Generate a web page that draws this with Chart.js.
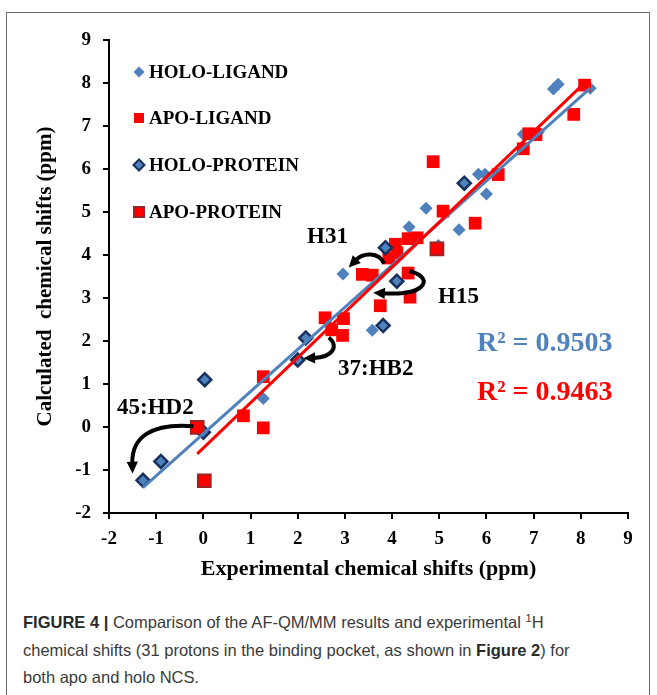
<!DOCTYPE html>
<html>
<head>
<meta charset="utf-8">
<script src="https://cdn.jsdelivr.net/npm/chart.js@4.4.1/dist/chart.umd.min.js"></script>
<style>
    html, body { margin: 0; padding: 0; background: #ffffff; }
    body { width: 657px; height: 695px; position: relative; overflow: hidden; }
    #frame {
        position: absolute; left: 6px; top: 12px; width: 644px; height: 720px;
        border: 1px solid #707070; box-sizing: border-box;
    }
    #chartCanvas { position: absolute; left: 0; top: 0; }
    #caption {
        position: absolute; left: 23px; top: 609px; width: 625px;
        font-family: "Liberation Sans", Arial, sans-serif; font-size: 16.5px;
        line-height: 27.5px; color: #3a3a3a; white-space: nowrap;
    }
    #caption b { color: #2a2a2a; }
    #caption sup { font-size: 11px; vertical-align: 6px; line-height: 0; }
</style>
</head>
<body>
<div id="frame"></div>
<canvas id="chartCanvas" width="657" height="595"></canvas>
<div id="caption">
    <b>FIGURE 4 |</b> Comparison of the AF-QM/MM results and experimental <sup>1</sup>H<br>
    chemical shifts (31 protons in the binding pocket, as shown in <b>Figure 2</b>) for<br>
    both apo and holo NCS.
</div>

<script>
/* ==========================================
        DATA  (experimental vs calculated, ppm)
========================================== */

const xTickValues = [-2, -1, 0, 1, 2, 3, 4, 5, 6, 7, 8, 9];
const yTickValues = [-2, -1, 0, 1, 2, 3, 4, 5, 6, 7, 8, 9];

const holoLigandExp  = [8.20, 7.42, 7.52, 6.78, 7.10, 5.83, 5.97, 6.00, 4.72, 4.36, 5.42, 4.98, 2.96, 3.58, 1.27];
const holoLigandCalc = [7.88, 7.86, 7.97, 6.81, 6.86, 5.88, 5.88, 5.42, 5.09, 4.65, 4.59, 4.22, 3.56, 2.25, 0.66];

const apoLigandExp  = [8.08, 7.85, 6.90, 7.05, 6.78, 4.87, 6.25, 5.08, 5.76, 4.34, 4.53, 4.07, 4.10, 3.93, 3.37, 3.58, 4.34, 4.38, 3.75, 2.58, 2.97, 2.72, 2.95, 1.27, 0.85, 1.27];
const apoLigandCalc = [7.95, 7.27, 6.82, 6.80, 6.47, 6.17, 5.87, 5.02, 4.74, 4.38, 4.40, 4.25, 4.05, 3.93, 3.55, 3.53, 3.58, 3.02, 2.82, 2.54, 2.52, 2.26, 2.13, 1.17, 0.26, -0.02];

const holoProteinExp  = [5.53, 3.86, 4.10, 3.81, 2.17, 2.00, 0.03, 0.00, -0.90, -1.28];
const holoProteinCalc = [5.67, 4.17, 3.39, 2.36, 2.07, 1.56, 1.10, -0.12, -0.80, -1.24];

const apoProteinExp  = [4.95, -0.13, 0.02];
const apoProteinCalc = [4.14, -0.01, -1.25];

// trendlines
const holoTrend = { slope: 0.980, intercept: -0.156, r2: 0.9503 };
const apoTrend  = { slope: 1.051, intercept: -0.490, r2: 0.9463 };

// labelled protons: text and curved arrow path (data units)
const arrowLabels = ["45:HD2", "H31", "H15", "37:HB2"];
const arrowPaths = [
    [[-0.21, 0.02], [-1.12, 0.10], [-1.52, -0.25], [-1.50, -1.08]],
    [[3.83, 3.80], [3.72, 4.08], [3.38, 4.05], [3.08, 3.71]],
    [[4.36, 3.62], [4.85, 3.52], [4.82, 3.05], [3.60, 3.12]],
    [[2.66, 2.08], [2.88, 1.88], [2.74, 1.62], [2.12, 1.60]]
];

/* ==========================================
        HELPERS
========================================== */

const SERIF = "'Liberation Serif', 'Times New Roman', serif";
const BLUE = "#4f81bd";
const RED = "#ff0000";

function toPoints(xs, ys) {
    return xs.map((x, i) => ({ x: x, y: ys[i] }));
}

function trendPoints(trend, xs) {
    const lo = Math.min(...xs);
    const hi = Math.max(...xs);
    return [
        { x: lo, y: trend.slope * lo + trend.intercept },
        { x: hi, y: trend.slope * hi + trend.intercept }
    ];
}

function drawMarker(ctx, style, x, y, r, fill, stroke, lw) {
    ctx.beginPath();
    if (style === "rectRot") {
        ctx.moveTo(x, y - r);
        ctx.lineTo(x + r, y);
        ctx.lineTo(x, y + r);
        ctx.lineTo(x - r, y);
    } else {
        ctx.rect(x - r, y - r, 2 * r, 2 * r);
    }
    ctx.closePath();
    ctx.fillStyle = fill;
    ctx.fill();
    if (lw > 0) {
        ctx.lineWidth = lw;
        ctx.strokeStyle = stroke;
        ctx.stroke();
    }
}

function drawArrow(ctx, xs, ys, path) {
    const p = path.map(pt => [xs.getPixelForValue(pt[0]), ys.getPixelForValue(pt[1])]);
    const tip = p[3];
    const ang = Math.atan2(tip[1] - p[2][1], tip[0] - p[2][0]);
    const head = 13;
    const base = [tip[0] - Math.cos(ang) * head * 0.8, tip[1] - Math.sin(ang) * head * 0.8];

    ctx.beginPath();
    ctx.moveTo(p[0][0], p[0][1]);
    ctx.bezierCurveTo(p[1][0], p[1][1], p[2][0], p[2][1], base[0], base[1]);
    ctx.lineWidth = 4;
    ctx.strokeStyle = "#000";
    ctx.lineCap = "butt";
    ctx.stroke();

    ctx.beginPath();
    ctx.moveTo(tip[0], tip[1]);
    ctx.lineTo(tip[0] - Math.cos(ang - 0.45) * head, tip[1] - Math.sin(ang - 0.45) * head);
    ctx.lineTo(tip[0] - Math.cos(ang + 0.45) * head, tip[1] - Math.sin(ang + 0.45) * head);
    ctx.closePath();
    ctx.fillStyle = "#000";
    ctx.fill();
}

/* ==========================================
        EXTRAS PLUGIN (legend, arrows, text)
========================================== */

const figureExtras = {
    id: "figureExtras",
    afterDatasetsDraw(chart) {
        const ctx = chart.ctx;
        const xs = chart.scales.x;
        const ys = chart.scales.y;

        ctx.save();

        // legend
        const legendY = [72, 118, 165, 212];
        const legendSets = chart.data.datasets.filter(d => d.inLegend);
        ctx.font = "bold 19px " + SERIF;
        ctx.textBaseline = "middle";
        ctx.textAlign = "left";
        legendSets.forEach((d, i) => {
            const r = d.pointStyle === "rectRot" ? 5.5 : 5;
            drawMarker(ctx, d.pointStyle, 139, legendY[i], r,
                d.backgroundColor, d.borderColor, d.borderWidth ? 2 : 0);
            ctx.fillStyle = "#000";
            ctx.fillText(d.label, 149, legendY[i] + 1);
        });

        // arrows
        arrowPaths.forEach(path => drawArrow(ctx, xs, ys, path));

        // arrow labels
        const labelPos = [[117, 408], [307, 237], [438, 297], [338, 369]];
        ctx.font = "bold 23px " + SERIF;
        ctx.fillStyle = "#000";
        arrowLabels.forEach((t, i) => {
            ctx.fillText(t, labelPos[i][0], labelPos[i][1]);
        });

        // R squared
        ctx.font = "bold 28px " + SERIF;
        ctx.fillStyle = BLUE;
        ctx.fillText("R\u00b2 = " + holoTrend.r2.toFixed(4), 477, 344);
        ctx.fillStyle = RED;
        ctx.fillText("R\u00b2 = " + apoTrend.r2.toFixed(4), 477, 393);

        ctx.restore();
    }
};

/* ==========================================
        CHART
========================================== */

const axisTicks = {
    color: "#000",
    font: { family: SERIF, size: 19, weight: "bold" },
    maxRotation: 0,
    autoSkip: false
};

const axisGrid = {
    drawOnChartArea: false,
    drawTicks: true,
    tickLength: 6,
    color: "#000",
    lineWidth: 2
};

const ctx = document.getElementById("chartCanvas").getContext("2d");

const shiftChart = new Chart(ctx, {

    type: "scatter",

    data: {
        datasets: [
            {
                label: "APO trend",
                data: trendPoints(apoTrend, apoLigandExp.concat(apoProteinExp)),
                showLine: true,
                borderColor: RED,
                borderWidth: 3,
                pointRadius: 0,
                order: 0
            },
            {
                label: "HOLO trend",
                data: trendPoints(holoTrend, holoLigandExp.concat(holoProteinExp)),
                showLine: true,
                borderColor: BLUE,
                borderWidth: 3,
                pointRadius: 0,
                order: 1
            },
            {
                label: "HOLO-LIGAND",
                inLegend: true,
                data: toPoints(holoLigandExp, holoLigandCalc),
                pointStyle: "rectRot",
                pointRadius: 6.5,
                backgroundColor: BLUE,
                borderColor: BLUE,
                borderWidth: 0,
                order: 5
            },
            {
                label: "APO-LIGAND",
                inLegend: true,
                data: toPoints(apoLigandExp, apoLigandCalc),
                pointStyle: "rect",
                pointRadius: 9,
                backgroundColor: RED,
                borderColor: RED,
                borderWidth: 0,
                order: 4
            },
            {
                label: "HOLO-PROTEIN",
                inLegend: true,
                data: toPoints(holoProteinExp, holoProteinCalc),
                pointStyle: "rectRot",
                pointRadius: 6.5,
                backgroundColor: BLUE,
                borderColor: "#17305e",
                borderWidth: 2.5,
                order: 3
            },
            {
                label: "APO-PROTEIN",
                inLegend: true,
                data: toPoints(apoProteinExp, apoProteinCalc),
                pointStyle: "rect",
                pointRadius: 9,
                backgroundColor: RED,
                borderColor: "#9c2424",
                borderWidth: 2,
                order: 2
            }
        ]
    },

    options: {
        responsive: false,
        devicePixelRatio: 1,
        animation: false,
        layout: {
            padding: { left: 0, top: 40, right: 29, bottom: 0 }
        },
        plugins: {
            legend: { display: false },
            tooltip: { enabled: false }
        },
        scales: {
            x: {
                type: "linear",
                min: -2,
                max: 9,
                ticks: Object.assign({ padding: 9 }, axisTicks),
                grid: axisGrid,
                border: { display: true, color: "#000", width: 2 },
                title: {
                    display: true,
                    text: "Experimental chemical shifts (ppm)",
                    color: "#000",
                    font: { family: SERIF, size: 22, weight: "bold" },
                    padding: { top: 0, bottom: 12 }
                },
                afterBuildTicks: scale => {
                    scale.ticks = xTickValues.map(v => ({ value: v }));
                },
                afterFit: scale => {
                    scale.height = 82;
                }
            },
            y: {
                type: "linear",
                min: -2,
                max: 9,
                ticks: Object.assign({ padding: 12 }, axisTicks),
                grid: axisGrid,
                border: { display: true, color: "#000", width: 2 },
                title: {
                    display: true,
                    text: "Calculated  chemical shifts (ppm)",
                    color: "#000",
                    font: { family: SERIF, size: 21, weight: "bold" },
                    padding: { top: 33, bottom: 0 }
                },
                afterBuildTicks: scale => {
                    scale.ticks = yTickValues.map(v => ({ value: v }));
                },
                afterFit: scale => {
                    scale.width = 109;
                }
            }
        }
    },

    plugins: [figureExtras]

});
</script>
</body>
</html>
